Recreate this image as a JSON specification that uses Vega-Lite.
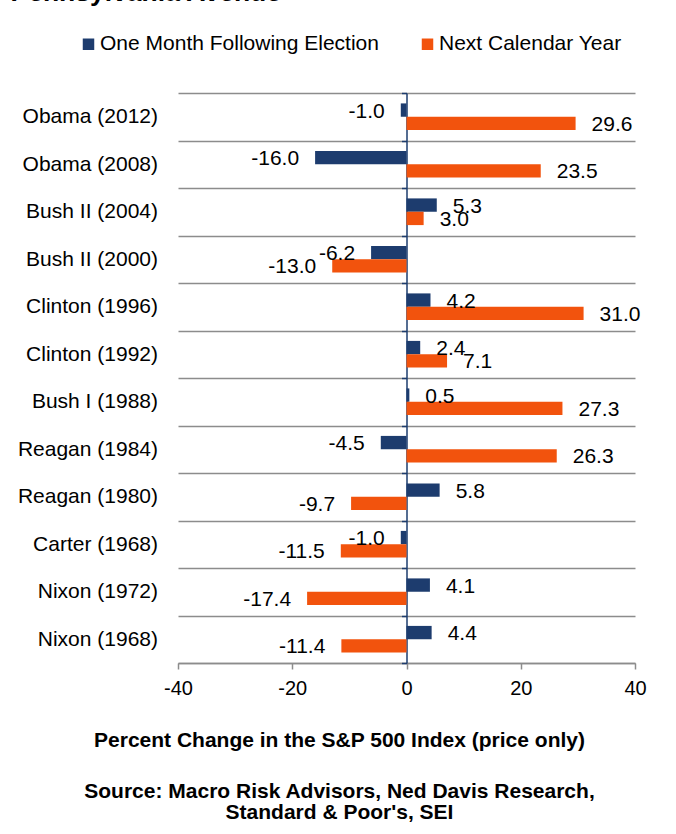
{
  "$schema": "https://vega.github.io/schema/vega-lite/v6.json",
  "width": 457,
  "height": 570,
  "autosize": {"type": "none"},
  "padding": {"left": 178, "top": 93, "right": 41, "bottom": 171},
  "background": "white",
  "config": {
    "font": "Liberation Sans",
    "view": {"stroke": null},
    "locale": {"number": {"decimal": ".", "thousands": ",", "grouping": [3], "currency": ["$", ""], "minus": "-"}},
    "axis": {"labelColor": "#000000", "titleColor": "#000000"}
  },
  "data": {
    "values": [
      {"president": "Obama (2012)", "series": "One Month Following Election", "value": -1.0},
      {"president": "Obama (2012)", "series": "Next Calendar Year", "value": 29.6},
      {"president": "Obama (2008)", "series": "One Month Following Election", "value": -16.0},
      {"president": "Obama (2008)", "series": "Next Calendar Year", "value": 23.5},
      {"president": "Bush II (2004)", "series": "One Month Following Election", "value": 5.3},
      {"president": "Bush II (2004)", "series": "Next Calendar Year", "value": 3.0},
      {"president": "Bush II (2000)", "series": "One Month Following Election", "value": -6.2},
      {"president": "Bush II (2000)", "series": "Next Calendar Year", "value": -13.0},
      {"president": "Clinton (1996)", "series": "One Month Following Election", "value": 4.2},
      {"president": "Clinton (1996)", "series": "Next Calendar Year", "value": 31.0},
      {"president": "Clinton (1992)", "series": "One Month Following Election", "value": 2.4},
      {"president": "Clinton (1992)", "series": "Next Calendar Year", "value": 7.1},
      {"president": "Bush I (1988)", "series": "One Month Following Election", "value": 0.5},
      {"president": "Bush I (1988)", "series": "Next Calendar Year", "value": 27.3},
      {"president": "Reagan (1984)", "series": "One Month Following Election", "value": -4.5},
      {"president": "Reagan (1984)", "series": "Next Calendar Year", "value": 26.3},
      {"president": "Reagan (1980)", "series": "One Month Following Election", "value": 5.8},
      {"president": "Reagan (1980)", "series": "Next Calendar Year", "value": -9.7},
      {"president": "Carter (1968)", "series": "One Month Following Election", "value": -1.0},
      {"president": "Carter (1968)", "series": "Next Calendar Year", "value": -11.5},
      {"president": "Nixon (1972)", "series": "One Month Following Election", "value": 4.1},
      {"president": "Nixon (1972)", "series": "Next Calendar Year", "value": -17.4},
      {"president": "Nixon (1968)", "series": "One Month Following Election", "value": 4.4},
      {"president": "Nixon (1968)", "series": "Next Calendar Year", "value": -11.4}
    ]
  },
  "resolve": {"axis": {"x": "independent"}},
  "layer": [
    {
      "mark": {"type": "bar"},
      "encoding": {
        "y": {
          "field": "president", "type": "nominal", "sort": null,
          "scale": {"paddingInner": 0, "paddingOuter": 0},
          "axis": {
            "orient": "left", "title": null, "offset": -228.5,
            "domain": true, "domainColor": "#1d3c6e", "domainWidth": 1.5,
            "ticks": true, "tickColor": "#1d3c6e", "tickSize": 5, "tickWidth": 1.5, "tickBand": "extent",
            "grid": true, "gridColor": "#8c8c8c", "gridWidth": 1.5,
            "labelFontSize": 21, "labelPadding": 244, "labelColor": "#000000", "labelLimit": 400
          }
        },
        "yOffset": {
          "field": "series", "type": "nominal",
          "scale": {"domain": ["One Month Following Election", "Next Calendar Year"], "paddingInner": 0, "paddingOuter": 0.78}
        },
        "x": {
          "field": "value", "type": "quantitative",
          "scale": {"domain": [-40, 40], "nice": false},
          "axis": {
            "orient": "bottom", "values": [-40, -20, 0, 20, 40], "grid": false,
            "domainColor": "#8c8c8c", "domainWidth": 1.5,
            "tickColor": "#8c8c8c", "tickSize": 6, "tickWidth": 1.5,
            "labelFontSize": 20, "labelPadding": 9.5, "labelFlush": false,
            "title": "Percent Change in the S&P 500 Index (price only)",
            "titleFontSize": 21, "titleFontWeight": "bold",
            "titleX": 161, "titleY": 83.3, "titleAlign": "center", "titleBaseline": "alphabetic"
          }
        },
        "color": {
          "field": "series", "type": "nominal",
          "scale": {"domain": ["One Month Following Election", "Next Calendar Year"], "range": ["#1d3c6e", "#f2530d"]},
          "legend": {
            "orient": "none", "legendX": -100, "legendY": -59.5,
            "direction": "horizontal", "title": null,
            "symbolType": "square", "symbolSize": 132, "symbolStrokeWidth": 0, "symbolOpacity": 1,
            "labelFontSize": 21, "labelColor": "#000000", "labelOffset": 1, "labelLimit": 400,
            "columnPadding": 38, "padding": 0
          }
        }
      }
    },
    {
      "transform": [{"filter": "datum.value >= 0"}],
      "mark": {"type": "text", "align": "left", "baseline": "middle", "dx": 16, "dy": 1.5, "fontSize": 21, "color": "#000000"},
      "encoding": {
        "y": {"field": "president", "type": "nominal", "sort": null},
        "yOffset": {"field": "series", "type": "nominal"},
        "x": {
          "field": "value", "type": "quantitative",
          "axis": {
            "orient": "top", "labels": false, "ticks": false, "domain": false, "grid": false,
            "title": "Pennsylvania Avenue", "titleFontSize": 26.5, "titleFontWeight": "bold",
            "titleX": -168, "titleY": -92.8, "titleAlign": "left", "titleBaseline": "alphabetic"
          }
        },
        "text": {"field": "value", "type": "quantitative", "format": ".1f"}
      }
    },
    {
      "transform": [{"filter": "datum.value < 0"}],
      "mark": {"type": "text", "align": "right", "baseline": "middle", "dx": -16, "dy": 1.5, "fontSize": 21, "color": "#000000"},
      "encoding": {
        "y": {"field": "president", "type": "nominal", "sort": null},
        "yOffset": {"field": "series", "type": "nominal"},
        "x": {
          "field": "value", "type": "quantitative",
          "axis": {
            "orient": "bottom", "labels": false, "ticks": false, "domain": false, "grid": false,
            "title": ["Source: Macro Risk Advisors, Ned Davis Research,", "Standard & Poor's, SEI"],
            "titleFontSize": 21, "titleFontWeight": "bold", "titleLineHeight": 21.5,
            "titleX": 161, "titleY": 134, "titleAlign": "center", "titleBaseline": "alphabetic"
          }
        },
        "text": {"field": "value", "type": "quantitative", "format": ".1f"}
      }
    }
  ]
}
